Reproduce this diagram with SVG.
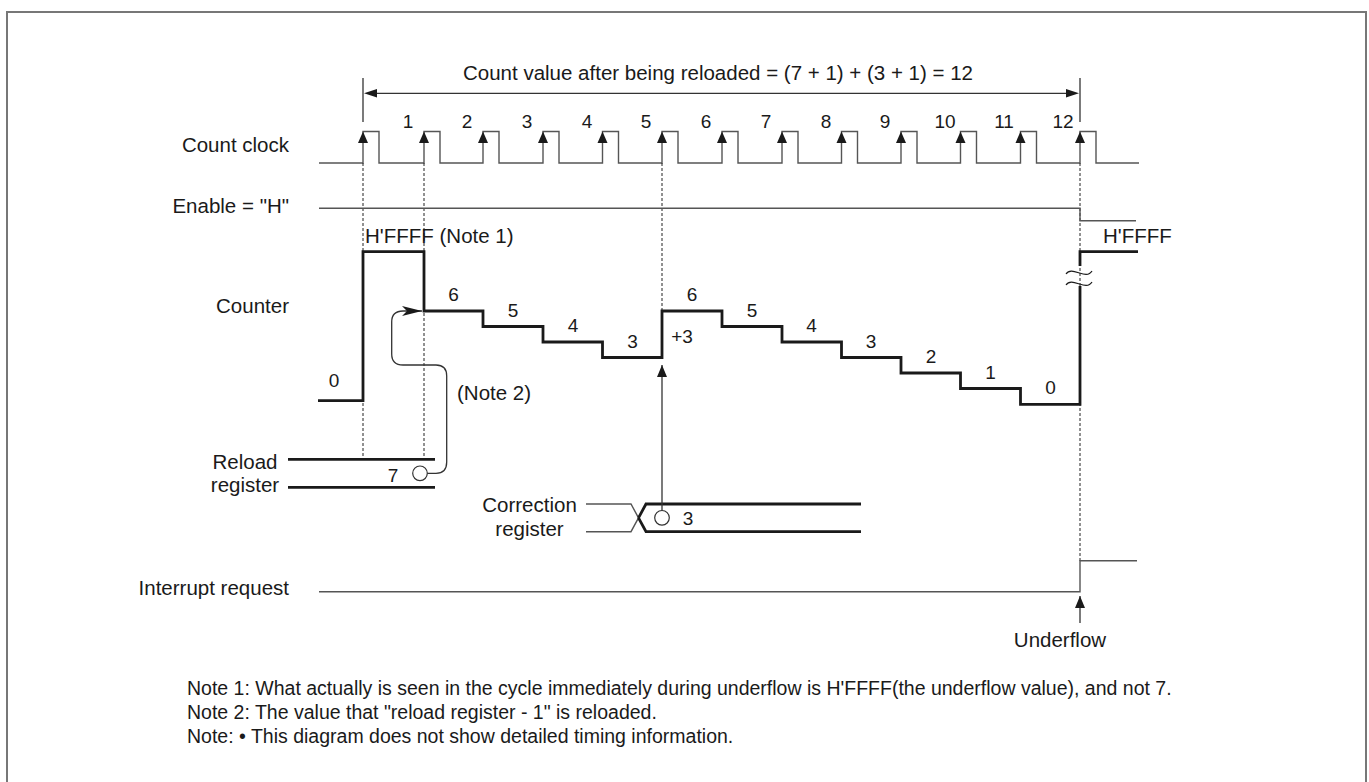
<svg xmlns="http://www.w3.org/2000/svg" width="1369" height="782" viewBox="0 0 1369 782">
<style>
text{font-family:"Liberation Sans",Arial,sans-serif;fill:#1a1a1a}
.lbl{font-size:20.5px}
.num{font-size:19px;text-anchor:middle}
.note{font-size:19.5px}
.thin{fill:none;stroke:#555;stroke-width:1.4}
.thick{fill:none;stroke:#1a1a1a;stroke-width:2.8}
.dot{fill:none;stroke:#222;stroke-width:1;stroke-dasharray:3 2}
.conn{fill:none;stroke:#333;stroke-width:1.3}
.head{fill:#1a1a1a}
</style>
<defs>
<marker id="tri" viewBox="0 0 12 10" refX="12" refY="5" markerWidth="12" markerHeight="10" markerUnits="userSpaceOnUse" orient="auto">
<path d="M0,0 L12,5 L0,10 Z" fill="#1a1a1a"/>
</marker>
<marker id="barb" viewBox="0 0 20 10" refX="20" refY="5" markerWidth="20" markerHeight="10" markerUnits="userSpaceOnUse" orient="auto">
<path d="M0,0 L20,5 L0,10 L5,5 Z" fill="#1a1a1a"/>
</marker>
<path id="clk" d="M-5,11.5 L0,0 L5,11.5 Z" fill="#1a1a1a"/>
</defs>

<rect x="7" y="12" width="1359" height="800" fill="#fff" stroke="#777" stroke-width="2"/>

<g id="labels">
<text class="lbl" x="718" y="80" text-anchor="middle">Count value after being reloaded = (7 + 1) + (3 + 1) = 12</text>
<text class="lbl" x="289" y="152" text-anchor="end">Count clock</text>
<text class="lbl" x="289" y="213" text-anchor="end">Enable = "H"</text>
<text class="lbl" x="289" y="313" text-anchor="end">Counter</text>
<text class="lbl" x="245" y="469" text-anchor="middle">Reload</text>
<text class="lbl" x="245" y="492" text-anchor="middle">register</text>
<text class="lbl" x="529.5" y="511.5" text-anchor="middle">Correction</text>
<text class="lbl" x="529.5" y="536" text-anchor="middle">register</text>
<text class="lbl" x="289" y="595" text-anchor="end">Interrupt request</text>
<text class="lbl" x="1060" y="647" text-anchor="middle">Underflow</text>
</g>

<g id="dimension">
<line class="conn" x1="363" y1="78" x2="363" y2="122"/>
<line class="conn" x1="1080" y1="78" x2="1080" y2="122"/>
<line class="conn" x1="372" y1="93.3" x2="1071" y2="93.3"/>
<path class="head" d="M364,93.3 L377,89 L377,97.6 Z"/>
<path class="head" d="M1079,93.3 L1066,89 L1066,97.6 Z"/>
</g>

<g id="count-clock">
<path class="thin" d="M319,163 H363 V131.5 H379 V163 H424 V131.5 H440 V163 H483 V131.5 H499 V163 H543 V131.5 H559 V163 H602.5 V131.5 H618.5 V163 H662 V131.5 H678 V163 H722 V131.5 H738 V163 H782 V131.5 H798 V163 H841.5 V131.5 H857.5 V163 H901 V131.5 H917 V163 H960.5 V131.5 H976.5 V163 H1020.5 V131.5 H1036.5 V163 H1080 V131.5 H1096 V163 H1139"/>
<use href="#clk" x="363" y="131.5"/><use href="#clk" x="424" y="131.5"/><use href="#clk" x="483" y="131.5"/>
<use href="#clk" x="543" y="131.5"/><use href="#clk" x="602.5" y="131.5"/><use href="#clk" x="662" y="131.5"/>
<use href="#clk" x="722" y="131.5"/><use href="#clk" x="782" y="131.5"/><use href="#clk" x="841.5" y="131.5"/>
<use href="#clk" x="901" y="131.5"/><use href="#clk" x="960.5" y="131.5"/><use href="#clk" x="1020.5" y="131.5"/>
<use href="#clk" x="1080" y="131.5"/>
<text class="num" x="408" y="128">1</text><text class="num" x="467" y="128">2</text><text class="num" x="527" y="128">3</text>
<text class="num" x="587" y="128">4</text><text class="num" x="646" y="128">5</text><text class="num" x="706" y="128">6</text>
<text class="num" x="766" y="128">7</text><text class="num" x="826" y="128">8</text><text class="num" x="885" y="128">9</text>
<text class="num" x="945" y="128">10</text><text class="num" x="1004" y="128">11</text><text class="num" x="1063" y="128">12</text>
</g>

<g id="guides">
<line class="dot" x1="363" y1="163" x2="363" y2="459"/>
<line class="dot" x1="424" y1="163" x2="424" y2="459"/>
<line class="dot" x1="662" y1="163" x2="662" y2="311"/>
<line class="dot" x1="1080" y1="163" x2="1080" y2="561"/>
</g>

<g id="enable">
<path class="thin" d="M319,208.3 H1080 V220.7 H1136"/>
</g>

<g id="counter">
<path class="thick" d="M318,400.7 H363 V251.7 H424 V311 H483 V326.5 H543 V342 H602.5 V357.5 H662 V311 H722 V326.5 H782 V342 H841.5 V357.5 H901 V373 H960.5 V388.5 H1020.5 V404.3 H1080 V286"/>
<path class="thick" d="M1080,266 V251.7 H1138"/>
<path fill="none" stroke="#1a1a1a" stroke-width="1.2" d="M1066,274 C1072,265 1086,281 1092,271 M1066,285 C1072,276 1086,292 1092,282"/>
<text class="lbl" x="365" y="242.5">H'FFFF (Note 1)</text>
<text class="lbl" x="1103" y="243">H'FFFF</text>
<text class="num" x="334" y="387">0</text>
<text class="num" x="453.5" y="301">6</text>
<text class="num" x="513" y="316.5">5</text>
<text class="num" x="573" y="332">4</text>
<text class="num" x="632.5" y="347.5">3</text>
<text class="num" x="682" y="343">+3</text>
<text class="num" x="692" y="301">6</text>
<text class="num" x="752" y="316.5">5</text>
<text class="num" x="811.5" y="332">4</text>
<text class="num" x="871" y="347.5">3</text>
<text class="num" x="931" y="363">2</text>
<text class="num" x="990.5" y="378.5">1</text>
<text class="num" x="1050.5" y="394">0</text>
</g>

<g id="reload-register">
<line class="thick" x1="288" y1="459.3" x2="435" y2="459.3"/>
<line class="thick" x1="288" y1="487.3" x2="435" y2="487.3"/>
<circle cx="420" cy="473.3" r="7.3" fill="none" stroke="#333" stroke-width="1.2"/>
<text class="num" x="393" y="482">7</text>
</g>

<g id="correction-register">
<path class="thin" d="M586,504 H631 L638.5,517.8"/>
<path class="thin" d="M586,531.7 H631 L638.5,517.8"/>
<path class="thick" d="M638.5,517.8 L646,504 H861"/>
<path class="thick" d="M638.5,517.8 L646,531.7 H861"/>
<circle cx="662" cy="517.8" r="7.3" fill="none" stroke="#333" stroke-width="1.2"/>
<text class="num" x="688" y="524.5">3</text>
</g>

<g id="interrupt">
<path class="thin" d="M319,591.7 H1080 V560.7 H1137"/>
</g>

<g id="connectors">
<path class="conn" d="M427.3,473.3 H436 Q446.7,473.3 446.7,462 V376 Q446.7,365 436,365 H403 Q391.7,365 391.7,354 V322 Q391.7,311 403,311 H422" marker-end="url(#barb)"/>
<text class="lbl" x="457" y="400">(Note 2)</text>
<line class="conn" x1="662" y1="510.5" x2="662" y2="365" marker-end="url(#tri)"/>
<line class="conn" x1="1080" y1="623" x2="1080" y2="596" marker-end="url(#tri)"/>
</g>

<g id="notes">
<text class="note" x="187" y="695">Note 1: What actually is seen in the cycle immediately during underflow is H'FFFF(the underflow value), and not 7.</text>
<text class="note" x="187" y="719">Note 2: The value that "reload register - 1" is reloaded.</text>
<text class="note" x="187" y="743">Note: • This diagram does not show detailed timing information.</text>
</g>
</svg>
